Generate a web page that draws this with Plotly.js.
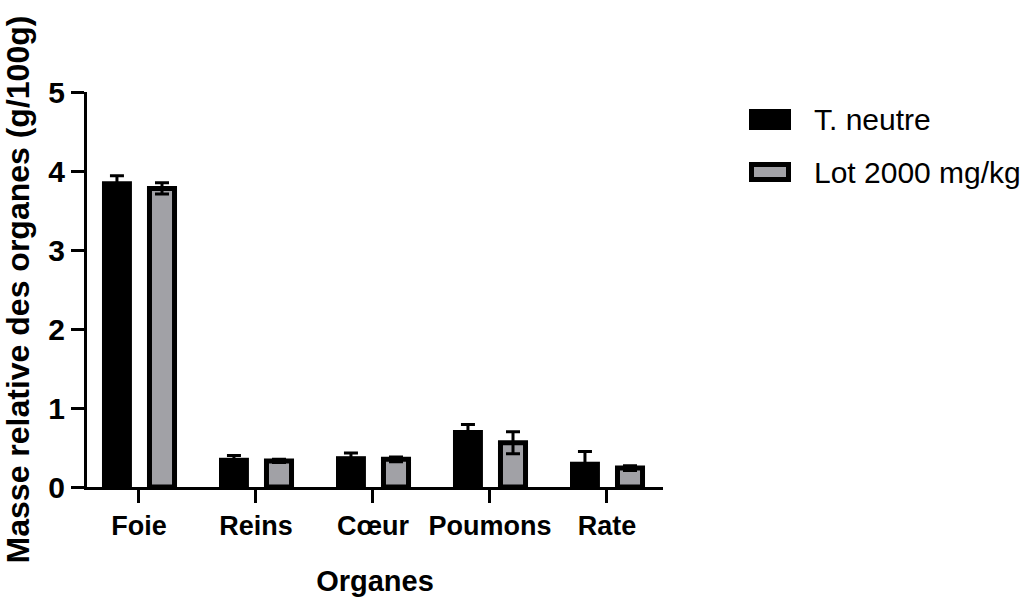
<!DOCTYPE html>
<html>
<head>
<meta charset="utf-8">
<script src="https://cdn.plot.ly/plotly-3.0.1.min.js"></script>
<style>html,body{margin:0;padding:0;background:#fff;}#chart{width:1031px;height:602px;}</style>
</head>
<body>
<div id="chart"></div>
<script>
// ---- Data ----
const categories = ["Foie", "Reins", "Cœur", "Poumons", "Rate"];
const seriesNames = ["T. neutre", "Lot 2000 mg/kg"];
const tNeutre = [3.87, 0.37, 0.39, 0.72, 0.32];
const tNeutreErr = [0.07, 0.03, 0.04, 0.07, 0.13];
const lot2000 = [3.78, 0.33, 0.35, 0.56, 0.24];
const lot2000Err = [0.07, 0.02, 0.03, 0.14, 0.03];
const yTicks = [0, 1, 2, 3, 4, 5];

const FONT = "Liberation Sans, Arial, sans-serif";
const GRAY = "#a1a1a6";

const W = 1031, H = 602;
const M = {l: 87, r: 1031 - 663, t: 92, b: 602 - 487};
const PW = W - M.l - M.r, PH = H - M.t - M.b;
const px2x = p => (p - M.l) / PW;
const py2y = p => (H - M.b - p) / PH;

const traces = [
  {
    type: "bar", name: seriesNames[0], x: categories, y: tNeutre,
    width: 0.256, offset: -0.316,
    marker: {color: "#000000", line: {width: 0}},
    error_y: {type: "data", array: tNeutreErr, visible: true, color: "#000", thickness: 3, width: 7},
    showlegend: false, hoverinfo: "x+y"
  },
  {
    type: "bar", name: seriesNames[1], x: categories, y: lot2000,
    width: 0.214, offset: 0.09,
    marker: {color: GRAY, line: {width: 5, color: "#000"}},
    error_y: {type: "data", array: lot2000Err, visible: true, color: "#000", thickness: 3, width: 7},
    showlegend: false, hoverinfo: "x+y"
  }
];

// custom legend (swatches + labels)
const legendItems = [
  {fill: "#000000", y0: 109, y1: 130, name: seriesNames[0], lw: 0},
  {fill: GRAY, y0: 162, y1: 182, name: seriesNames[1], lw: 5}
];
const shapes = legendItems.map(it => ({
  type: "rect", xref: "paper", yref: "paper",
  x0: px2x(749 + it.lw / 2), x1: px2x(791 - it.lw / 2),
  y0: py2y(it.y1 - it.lw / 2), y1: py2y(it.y0 + it.lw / 2),
  fillcolor: it.fill, line: {width: it.lw, color: "#000"}
}));
const annotations = legendItems.map(it => ({
  xref: "paper", yref: "paper", x: px2x(812), y: py2y((it.y0 + it.y1) / 2),
  xanchor: "left", yanchor: "middle", showarrow: false,
  text: it.name, font: {family: FONT, size: 30, color: "#000"}
}));

const layout = {
  width: W, height: H,
  margin: M,
  paper_bgcolor: "#fff", plot_bgcolor: "#fff",
  barmode: "overlay",
  showlegend: false,
  font: {family: FONT, color: "#000"},
  xaxis: {
    type: "category", range: [-0.444, 4.479],
    showgrid: false, zeroline: false,
    showline: true, linecolor: "#000", linewidth: 3,
    ticks: "outside", ticklen: 13, tickwidth: 3, tickcolor: "#000",
    tickfont: {family: FONT, size: 27, color: "#000", weight: "bold"},
    title: {text: "<b>Organes</b>", font: {family: FONT, size: 29, color: "#000"}, standoff: 31}
  },
  yaxis: {
    range: [0, 5], tickvals: yTicks, ticktext: yTicks.map(String),
    showgrid: false, zeroline: false,
    showline: true, linecolor: "#000", linewidth: 3,
    ticks: "outside", ticklen: 13, tickwidth: 3, tickcolor: "#000",
    tickfont: {family: FONT, size: 30, color: "#000", weight: "bold"},
    title: {text: "<b>Masse relative des organes (g/100g)</b>", font: {family: FONT, size: 32, color: "#000"}, standoff: 11}
  },
  shapes: shapes,
  annotations: annotations
};

Plotly.newPlot("chart", traces, layout, {displayModeBar: false, staticPlot: true});
</script>
</body>
</html>
